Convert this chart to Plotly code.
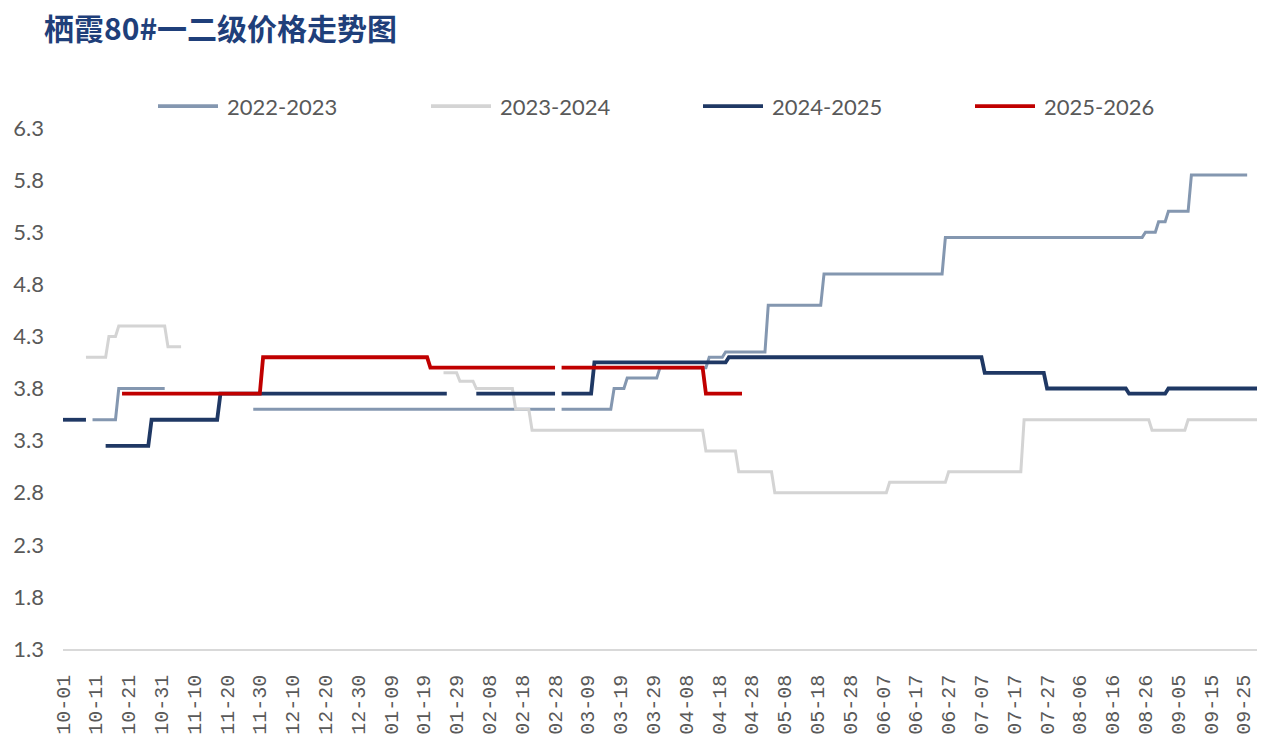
import datetime as dt
import plotly.graph_objects as go

# Season calendar runs 10-01 .. 09-29 on a leap-year grid so 02-29 has a slot
DAY0 = dt.date(2023, 10, 1)
N_DAYS = 365
dates = [(DAY0 + dt.timedelta(days=i)).strftime("%m-%d") for i in range(N_DAYS)]
tick_labels = dates[::10]

y_ticks = [1.3, 1.8, 2.3, 2.8, 3.3, 3.8, 4.3, 4.8, 5.3, 5.8, 6.3]

seasons = ["2022-2023", "2023-2024", "2024-2025", "2025-2026"]
season_colors = ["#8497B0", "#D4D4D4", "#1F3864", "#C00000"]
season_widths = [3, 3, 3.8, 3.8]
season_has_leap_day = [False, True, False, False]

# Price runs per season: (first day, last day, price)
runs_2022_2023 = [
    ("10-10", "10-17", 3.5),
    ("10-18", "11-01", 3.8),
    ("11-28", "03-16", 3.6),
    ("03-17", "03-20", 3.8),
    ("03-21", "03-30", 3.9),
    ("03-31", "04-14", 4.0),
    ("04-15", "04-19", 4.1),
    ("04-20", "05-02", 4.15),
    ("05-03", "05-19", 4.6),
    ("05-20", "06-25", 4.9),
    ("06-26", "08-25", 5.25),
    ("08-26", "08-29", 5.3),
    ("08-30", "09-01", 5.4),
    ("09-02", "09-08", 5.5),
    ("09-09", "09-26", 5.85),
]
runs_2023_2024 = [
    ("10-08", "10-14", 4.1),
    ("10-15", "10-17", 4.3),
    ("10-18", "11-01", 4.4),
    ("11-02", "11-06", 4.2),
    ("01-25", "01-29", 3.95),
    ("01-30", "02-03", 3.87),
    ("02-04", "02-15", 3.8),
    ("02-16", "02-20", 3.6),
    ("02-21", "04-13", 3.4),
    ("04-14", "04-23", 3.2),
    ("04-24", "05-04", 3.0),
    ("05-05", "06-08", 2.8),
    ("06-09", "06-26", 2.9),
    ("06-27", "07-19", 3.0),
    ("07-20", "08-27", 3.5),
    ("08-28", "09-07", 3.4),
    ("09-08", "09-29", 3.5),
]
runs_2024_2025 = [
    ("10-01", "10-08", 3.5),
    ("10-14", "10-27", 3.25),
    ("10-28", "11-17", 3.5),
    ("11-18", "01-26", 3.75),
    ("02-04", "03-10", 3.75),
    ("03-11", "04-20", 4.05),
    ("04-21", "07-07", 4.1),
    ("07-08", "07-26", 3.95),
    ("07-27", "08-20", 3.8),
    ("08-21", "09-01", 3.75),
    ("09-02", "09-29", 3.8),
]
runs_2025_2026 = [
    ("10-19", "11-30", 3.75),
    ("12-01", "01-20", 4.1),
    ("01-21", "04-13", 4.0),
    ("04-14", "04-25", 3.75),
]
season_runs = [runs_2022_2023, runs_2023_2024, runs_2024_2025, runs_2025_2026]

day_pos = {d: i for i, d in enumerate(dates)}


def daily_prices(runs, has_leap_day):
    y = [None] * N_DAYS
    for first, last, price in runs:
        for i in range(day_pos[first], day_pos[last] + 1):
            y[i] = price
    if not has_leap_day:
        y[day_pos["02-29"]] = None
    return y


fig = go.Figure()
for name, runs, color, width, leap in zip(
    seasons, season_runs, season_colors, season_widths, season_has_leap_day
):
    fig.add_trace(
        go.Scatter(
            x=dates,
            y=daily_prices(runs, leap),
            mode="lines",
            name=name,
            line=dict(color=color, width=width),
            showlegend=False,
        )
    )

# Plot-area geometry in pixels, used to place the legend and title
W, H = 1261, 739
L, R, T, B = 63, 4, 128, 88
PW, PH = W - L - R, H - T - B


def px_x(x):
    return (x - L) / PW


def px_y(y):
    return (H - B - y) / PH


shapes = []
annotations = []
legend_line_x = [158, 431, 703, 975]
legend_y = 106
for name, color, x0 in zip(seasons, season_colors, legend_line_x):
    shapes.append(
        dict(
            type="line", xref="paper", yref="paper",
            x0=px_x(x0), x1=px_x(x0 + 60), y0=px_y(legend_y), y1=px_y(legend_y),
            line=dict(color=color, width=3.8),
        )
    )
    annotations.append(
        dict(
            xref="paper", yref="paper", x=px_x(x0 + 67), y=px_y(legend_y),
            xanchor="left", yanchor="middle", showarrow=False, text=name,
            font=dict(family="Lato, Liberation Sans, sans-serif", size=22, color="#595959"),
        )
    )

annotations.append(
    dict(
        xref="paper", yref="paper", x=px_x(42), y=px_y(27),
        xanchor="left", yanchor="middle", showarrow=False,
        text="<b>栖霞80#一二级价格走势图</b>",
        font=dict(family="Noto Sans CJK SC", size=30, color="#1F3F7A"),
    )
)

fig.update_layout(
    width=W,
    height=H,
    margin=dict(l=L, r=R, t=T, b=B, pad=0),
    paper_bgcolor="white",
    plot_bgcolor="white",
    shapes=shapes,
    annotations=annotations,
    xaxis=dict(
        type="category",
        categoryorder="array",
        categoryarray=dates,
        range=[0, N_DAYS - 1],
        tickmode="array",
        tickvals=tick_labels,
        ticktext=tick_labels,
        tickangle=-90,
        tickfont=dict(family="Liberation Mono, DejaVu Sans Mono, monospace", size=20, color="#595959"),
        ticks="",
        ticklabelstandoff=16,
        showgrid=False,
        showline=True,
        linecolor="#D9D9D9",
        linewidth=1.5,
        zeroline=False,
    ),
    yaxis=dict(
        range=[1.3, 6.3],
        tickmode="array",
        tickvals=y_ticks,
        ticktext=[f"{v:.1f}" for v in y_ticks],
        tickfont=dict(family="Lato, Liberation Sans, sans-serif", size=22, color="#595959"),
        ticks="",
        ticklabelstandoff=18,
        showgrid=False,
        showline=False,
        zeroline=False,
    ),
)

fig.write_html("out.html")
